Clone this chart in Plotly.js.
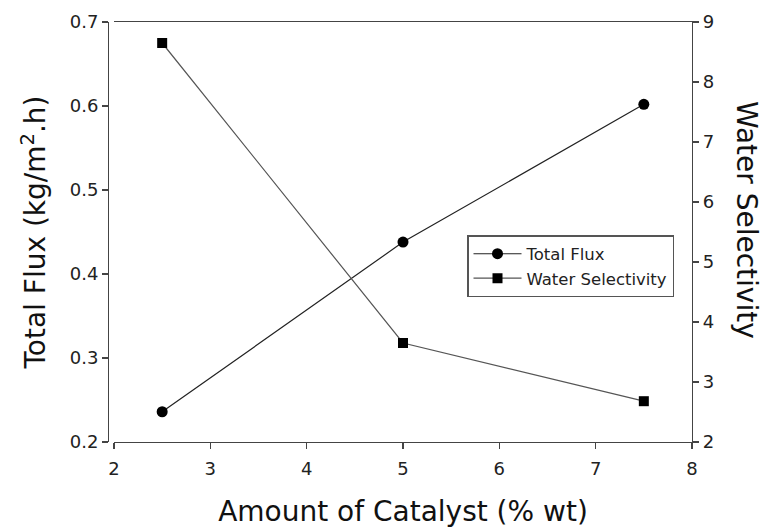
<!DOCTYPE html>
<html>
<head>
<meta charset="utf-8">
<script src="https://cdn.plot.ly/plotly-3.0.1.min.js"></script>
<style>html,body{margin:0;padding:0;background:#fff;}#chart{width:764px;height:528px;}</style>
</head>
<body>
<div id="chart"></div>
<script>
const catalyst = [2.5, 5, 7.5];
const totalFlux = [0.236, 0.438, 0.602];
const waterSelectivity = [8.65, 3.65, 2.68];
const xTicks = [2, 3, 4, 5, 6, 7, 8];
const yTicks = [0.2, 0.3, 0.4, 0.5, 0.6, 0.7];
const y2Ticks = [2, 3, 4, 5, 6, 7, 8, 9];

const font = "Verdana, 'DejaVu Sans', sans-serif";

const traces = [
  {
    x: catalyst, y: totalFlux, name: 'Total Flux', type: 'scatter', mode: 'lines+markers',
    line: {color: '#222', width: 1.2},
    marker: {symbol: 'circle', size: 11, color: '#000'},
    yaxis: 'y'
  },
  {
    x: catalyst, y: waterSelectivity, name: 'Water Selectivity', type: 'scatter', mode: 'lines+markers',
    line: {color: '#555', width: 1.2},
    marker: {symbol: 'square', size: 10, color: '#000'},
    yaxis: 'y2'
  }
];

const layout = {
  width: 764, height: 528,
  margin: {l: 0, r: 0, t: 0, b: 0},
  paper_bgcolor: '#fff', plot_bgcolor: '#fff',
  font: {family: font, color: '#222', size: 17},
  showlegend: true,
  legend: {
    x: 467/764, y: 1 - 235/528, xanchor: 'left', yanchor: 'top',
    bordercolor: '#555', borderwidth: 1.5, bgcolor: '#fff',
    font: {family: font, size: 16.5, color: '#222'},
    itemwidth: 48,
    tracegroupgap: 2
  },
  xaxis: {
    domain: [114/764, 692/764],
    range: [2, 8], tickvals: xTicks, ticktext: xTicks.map(String),
    showgrid: false, zeroline: false,
    showline: true, linecolor: '#444', linewidth: 1.2, mirror: true,
    ticks: 'outside', ticklen: 6, tickcolor: '#444', tickwidth: 1.2,
    ticklabelstandoff: 4,
    tickfont: {family: font, size: 18, color: '#222'},
    title: {text: 'Amount of Catalyst (% wt)', font: {family: font, size: 28, color: '#111'}, standoff: 28},
    anchor: 'y'
  },
  yaxis: {
    domain: [1 - 442/528, 1 - 22/528],
    range: [0.2, 0.7], tickvals: yTicks, ticktext: yTicks.map(v => v.toFixed(1)),
    showgrid: false, zeroline: false,
    showline: true, linecolor: '#444', linewidth: 1.2,
    ticks: 'outside', ticklen: 6, tickcolor: '#444', tickwidth: 1.2,
    tickfont: {family: font, size: 18, color: '#222'},
    title: {text: 'Total Flux (kg/m<sup>2</sup>.h)', font: {family: font, size: 28, color: '#111'}, standoff: 14},
    anchor: 'free', position: 108/764
  },
  yaxis2: {
    overlaying: 'y', side: 'right', anchor: 'x',
    range: [2, 9], tickvals: y2Ticks, ticktext: y2Ticks.map(String),
    showgrid: false, zeroline: false,
    showline: true, linecolor: '#444', linewidth: 1.2,
    ticks: 'outside', ticklen: 6, tickcolor: '#444', tickwidth: 1.2,
    tickfont: {family: font, size: 18, color: '#222'}
  },
  annotations: [
    {
      text: 'Water Selectivity', xref: 'paper', yref: 'paper',
      x: 747/764, y: 1 - 220/528, xanchor: 'center', yanchor: 'middle',
      textangle: 90, showarrow: false,
      font: {family: font, size: 28, color: '#111'}
    }
  ]
};

Plotly.newPlot('chart', traces, layout, {displayModeBar: false, staticPlot: true});
</script>
</body>
</html>
